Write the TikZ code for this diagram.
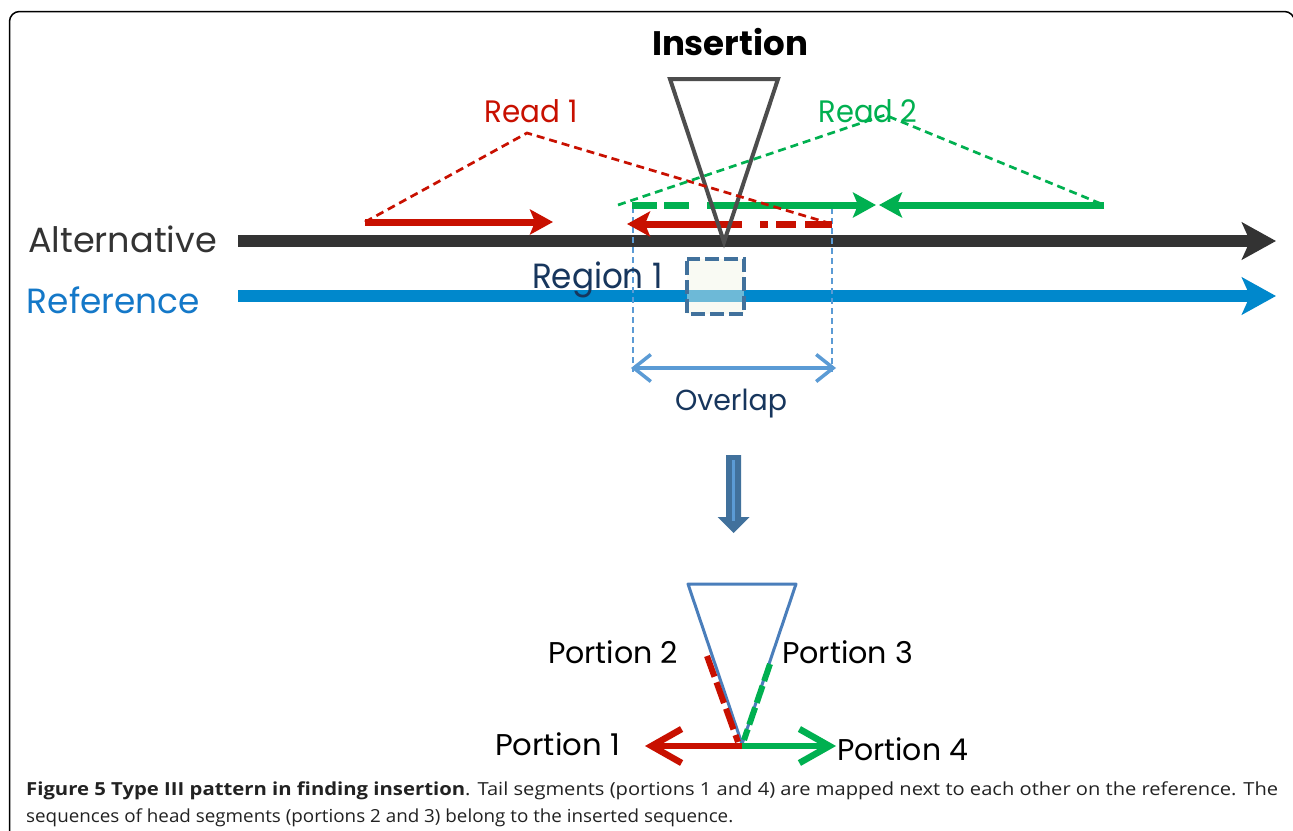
\documentclass[tikz,border=0pt]{standalone}
\usepackage{graphicx}
\usepackage{fontspec}
\setmainfont{Poppins}
\newfontfamily\capfont{Open Sans}
\usetikzlibrary{arrows.meta}
\definecolor{myred}{HTML}{C81000}
\definecolor{mygreen}{HTML}{00B050}
\definecolor{altgrey}{HTML}{333333}
\definecolor{refblue}{HTML}{0088CC}
\definecolor{reftext}{HTML}{1478C8}
\definecolor{lblue}{HTML}{5B9BD5}
\definecolor{navy}{HTML}{17365D}
\definecolor{sqblue}{HTML}{41719C}
\definecolor{trigrey}{HTML}{4D4D4D}
\definecolor{tritwo}{HTML}{4A7EBB}
\definecolor{sqfill}{HTML}{F2F5E6}
\definecolor{captext}{HTML}{222222}
\newcommand{\fitw}[2]{\resizebox{#1}{\height}{#2}}
\tikzset{
  lbl/.style={inner sep=0pt, anchor=base},
  capline/.style={inner sep=0pt, anchor=base west, text=captext, font=\capfont\fontsize{18}{27}\selectfont},
  bigline/.style={line width=12pt, -{Stealth[length=34pt,width=37pt,inset=8pt]}},
  readarrow/.style={line width=7pt, -{Stealth[length=23pt,width=25pt,inset=5pt]}},
  readseg/.style={line width=7pt},
  diag/.style={line width=2.7pt, dash pattern=on 8pt off 5pt},
  vdash/.style={draw=lblue, line width=2pt, dash pattern=on 6pt off 4pt},
  portarrow/.style={line width=6.5pt, line cap=round, -{Straight Barb[length=30pt,width=34pt]}},
  portdash/.style={line width=6pt, dash pattern=on 22pt off 6pt},
}
\begin{document}
\begin{tikzpicture}[x=1pt,y=-1pt]
\useasboundingbox (0,0) rectangle (1293,830);
\fill[white] (0,0) rectangle (1293,830);
% frame
\draw[line width=1.5pt, rounded corners=10pt] (9.5,845) -- (9.5,11.5) -- (1294.5,11.5) -- (1294.5,845);

% main lines
\coordinate (als) at (238,241); \coordinate (ale) at (1276,241);
\coordinate (rfs) at (238,296); \coordinate (rfe) at (1276,296);
\draw[altgrey, bigline] (als) -- (ale);
\draw[refblue, bigline] (rfs) -- (rfe);

% region square
\coordinate (sqa) at (687,259); \coordinate (sqb) at (744,314);
\fill[sqfill, fill opacity=0.45] (sqa) rectangle (sqb);
\draw[sqblue, line width=4pt, dash pattern=on 14pt off 5pt, dash phase=-2pt] (sqa) rectangle (sqb);

% vertical dashed lines
\coordinate (vl1) at (633,207); \coordinate (vl2) at (633,372);
\coordinate (vr1) at (832,208); \coordinate (vr2) at (832,372);
\draw[vdash] (vl1) -- (vl2);
\draw[vdash] (vr1) -- (vr2);

% Read 1 arrows
\coordinate (r1s) at (365,222); \coordinate (r1e) at (553,222);
\draw[myred, readarrow] (r1s) -- (r1e);
\coordinate (r2s) at (742,224); \coordinate (r2e) at (627,224);
\draw[myred, readarrow] (r2s) -- (r2e);
\coordinate (d1a) at (760,224); \coordinate (d1b) at (768,224);
\coordinate (d2a) at (776,224); \coordinate (d2b) at (796,224);
\coordinate (d3a) at (805,224); \coordinate (d3b) at (832,224);
\draw[myred, readseg] (d1a) -- (d1b);
\draw[myred, readseg] (d2a) -- (d2b);
\draw[myred, readseg] (d3a) -- (d3b);

% Read 2 arrows
\coordinate (g1a) at (632,205); \coordinate (g1b) at (657,205);
\coordinate (g2a) at (664,205); \coordinate (g2b) at (689,205);
\coordinate (g3s) at (707,205); \coordinate (g3e) at (876,205);
\draw[mygreen, readseg] (g1a) -- (g1b);
\draw[mygreen, readseg] (g2a) -- (g2b);
\draw[mygreen, readarrow] (g3s) -- (g3e);
\coordinate (g4s) at (1104,205); \coordinate (g4e) at (879,205);
\draw[mygreen, readarrow] (g4s) -- (g4e);

% insertion triangle
\coordinate (t1) at (670,79); \coordinate (t2) at (778,79); \coordinate (t3) at (724,242);
\draw[trigrey, line width=4pt, line join=miter] (t1) -- (t2) -- (t3) -- cycle;

% dashed diagonals
\coordinate (ra) at (527,133);
\draw[myred, diag] (r1s) -- (ra) -- (d3b);
\coordinate (ga) at (885,115); \coordinate (gs) at (618,205);
\draw[mygreen, diag] (gs) -- (ga) -- (g4s);

% overlap arrow
\coordinate (ovl) at (631,368); \coordinate (ovr) at (836,368);
\draw[lblue, line width=3.5pt, line cap=round, {Straight Barb[length=17pt,width=27pt]}-{Straight Barb[length=17pt,width=27pt]}] (ovl) -- (ovr);

% down arrow
\fill[sqblue] (726,455) -- (741,455) -- (741,517) -- (749.5,517) -- (733.5,533) -- (717.5,517) -- (726,517) -- cycle;
\coordinate (da1) at (733.5,460); \coordinate (da2) at (733.5,521);
\draw[lblue, line width=2.5pt] (da1) -- (da2);

% bottom triangle
\coordinate (b1) at (688,584); \coordinate (b2) at (796,584); \coordinate (b3) at (742,744);
\draw[tritwo, line width=3pt, line join=round] (b1) -- (b2) -- (b3) -- cycle;
\coordinate (p2a) at (707,656); \coordinate (p2b) at (738,742);
\draw[myred, portdash] (p2a) -- (p2b);
\coordinate (p3a) at (770,664); \coordinate (p3b) at (744,740);
\draw[mygreen, portdash, dash pattern=on 18pt off 5pt] (p3a) -- (p3b);
\coordinate (p1s) at (742,746); \coordinate (p1e) at (645,746);
\coordinate (p4s) at (742,746); \coordinate (p4e) at (836,746);
\draw[mygreen, portarrow, line cap=butt] (p4s) -- (p4e);
\draw[myred, portarrow, line cap=butt] (p1s) -- (p1e);

% labels
\node[lbl, font=\fontsize{34}{40}\selectfont\bfseries] (ins) at (730,55) {\fitw{156pt}{Insertion}};
\node[lbl, text=myred, font=\fontsize{31}{36}\selectfont] (read1) at (531,122) {\fitw{93pt}{Read 1}};
\node[lbl, text=mygreen, font=\fontsize{31}{36}\selectfont] (read2) at (868,122) {\fitw{99pt}{Read 2}};
\node[lbl, text=altgrey, font=\fontsize{35}{40}\selectfont] (alt) at (122.5,252) {\fitw{189pt}{Alternative}};
\node[lbl, text=reftext, font=\fontsize{35}{40}\selectfont] (ref) at (113.5,313) {\fitw{173pt}{Reference}};
\node[lbl, text=navy, font=\fontsize{35}{40}\selectfont] (reg) at (597.5,288) {\fitw{131pt}{Region 1}};
\node[lbl, text=navy, font=\fontsize{29}{34}\selectfont] (ovt) at (731,410) {\fitw{112pt}{Overlap}};
\node[lbl, font=\fontsize{30}{36}\selectfont] (po2) at (613,663) {\fitw{130pt}{Portion 2}};
\node[lbl, font=\fontsize{30}{36}\selectfont] (po3) at (847.5,663) {\fitw{131pt}{Portion 3}};
\node[lbl, font=\fontsize{30}{36}\selectfont] (po1) at (557.5,755) {\fitw{125pt}{Portion 1}};
\node[lbl, font=\fontsize{30}{36}\selectfont] (po4) at (902.5,760) {\fitw{131pt}{Portion 4}};

% caption
\node[capline] (cap1) at (26,795)
  {\fitw{439pt}{\textbf{Figure 5 Type III pattern in finding insertion}}\fitw{813pt}{. Tail segments (portions 1 and 4) are mapped next to each other on the reference. The}};
\node[capline] (cap2) at (26,822)
  {\fitw{707pt}{sequences of head segments (portions 2 and 3) belong to the inserted sequence.}};
\end{tikzpicture}
\end{document}
